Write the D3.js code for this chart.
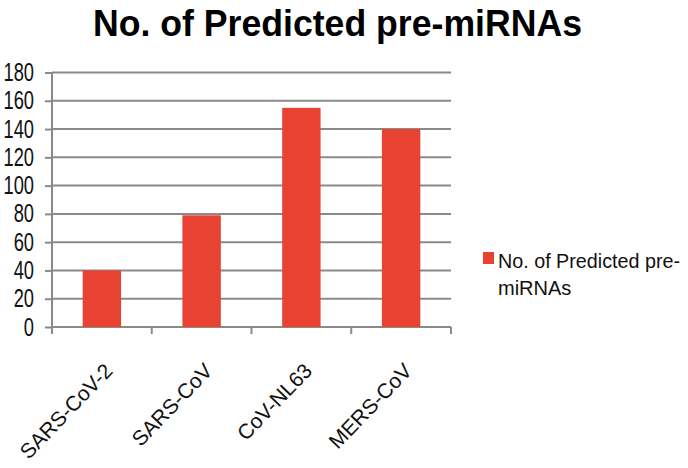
<!doctype html>
<html lang="en">
<head>
  <meta charset="utf-8">
  <script src="https://cdn.jsdelivr.net/npm/d3@7"></script>
  <title>No. of Predicted pre-miRNAs</title>
  <style>
    body { margin: 0; background: #fff; }
    text { font-family: "Liberation Sans", Arial, sans-serif; }
  </style>
</head>
<body>
  <svg id="chart" width="688" height="468"></svg>
  <script>
    // chart values
    var viruses = ["SARS-CoV-2", "SARS-CoV", "CoV-NL63", "MERS-CoV"];
    var counts = [40, 79, 155, 140];
    var yTicks = [0, 20, 40, 60, 80, 100, 120, 140, 160, 180];
    var seriesName = "No. of Predicted pre-miRNAs";

    var svg = d3.select("#chart");
    var gray = "#8a8a8a";
    var red = "#e84233";

    var x = d3.scaleBand().domain(viruses).range([52, 451]).paddingInner(0.615).paddingOuter(0.3075);
    var xBound = d3.scaleBand().domain(viruses).range([52, 451]);
    var y = d3.scaleLinear().domain([0, 180]).range([327, 72.5]);

    // Title
    svg.append("text")
        .attr("x", 337.5)
        .attr("y", 36)
        .attr("text-anchor", "middle")
        .attr("font-size", 36)
        .attr("font-weight", "bold")
        .attr("textLength", 489)
        .attr("lengthAdjust", "spacingAndGlyphs")
        .text("No. of Predicted pre-miRNAs");

    // gridlines
    svg.append("g")
      .selectAll("line")
      .data(yTicks.slice(1))
      .enter()
      .append("line")
        .attr("x1", 52)
        .attr("x2", 451)
        .attr("y1", function(d) { return y(d); })
        .attr("y2", function(d) { return y(d); })
        .attr("stroke", gray)
        .attr("stroke-width", 2);

    // y axis
    var yAxis = svg.append("g")
        .attr("transform", "translate(52,0)")
        .call(d3.axisLeft(y).tickValues(yTicks).tickSize(7).tickPadding(11));
    yAxis.select(".domain").attr("stroke", gray).attr("stroke-width", 2)
        .attr("d", "M0," + y(180) + "V" + (y(0) + 6));
    yAxis.selectAll(".tick line").attr("stroke", gray).attr("stroke-width", 2);
    yAxis.selectAll(".tick text")
        .attr("font-size", 25)
        .attr("fill", "#111")
        .attr("font-family", "Liberation Sans, Arial, sans-serif")
        .each(function() {
          var w = this.getComputedTextLength();
          d3.select(this).attr("textLength", w * 0.73).attr("lengthAdjust", "spacingAndGlyphs");
        });

    // x axis baseline and ticks
    var xg = svg.append("g");
    xg.append("line")
        .attr("x1", 52).attr("x2", 451)
        .attr("y1", y(0)).attr("y2", y(0))
        .attr("stroke", gray).attr("stroke-width", 2);
    var bounds = viruses.map(function(v) { return xBound(v); }).concat([451]);
    xg.selectAll(".xt")
      .data(bounds)
      .enter()
      .append("line")
        .attr("x1", function(d) { return d; })
        .attr("x2", function(d) { return d; })
        .attr("y1", y(0))
        .attr("y2", y(0) + 7)
        .attr("stroke", gray).attr("stroke-width", 2);

    // bars
    svg.append("g")
      .selectAll("rect")
      .data(counts)
      .enter()
      .append("rect")
        .attr("x", function(d, i) { return x(viruses[i]); })
        .attr("y", function(d) { return y(d); })
        .attr("width", x.bandwidth())
        .attr("height", function(d) { return y(0) - y(d); })
        .attr("fill", red);

    // category labels, rotated
    svg.append("g")
      .selectAll("text")
      .data(viruses)
      .enter()
      .append("text")
        .attr("transform", function(d) {
          return "translate(" + (xBound(d) + xBound.bandwidth() / 2 + 12) + ",372) rotate(-46)";
        })
        .attr("text-anchor", "end")
        .attr("font-size", 21)
        .attr("fill", "#111")
        .text(function(d) { return d; });

    // legend
    var lg = svg.append("g");
    lg.append("rect")
        .attr("x", 483).attr("y", 252)
        .attr("width", 11).attr("height", 12)
        .attr("fill", red);
    lg.append("text")
        .attr("x", 498).attr("y", 268)
        .attr("font-size", 20)
        .attr("fill", "#111")
        .attr("textLength", 182)
        .attr("lengthAdjust", "spacingAndGlyphs")
        .text("No. of Predicted pre-");
    lg.append("text")
        .attr("x", 498).attr("y", 295)
        .attr("font-size", 20)
        .attr("fill", "#111")
        .text("miRNAs");
  </script>
</body>
</html>
